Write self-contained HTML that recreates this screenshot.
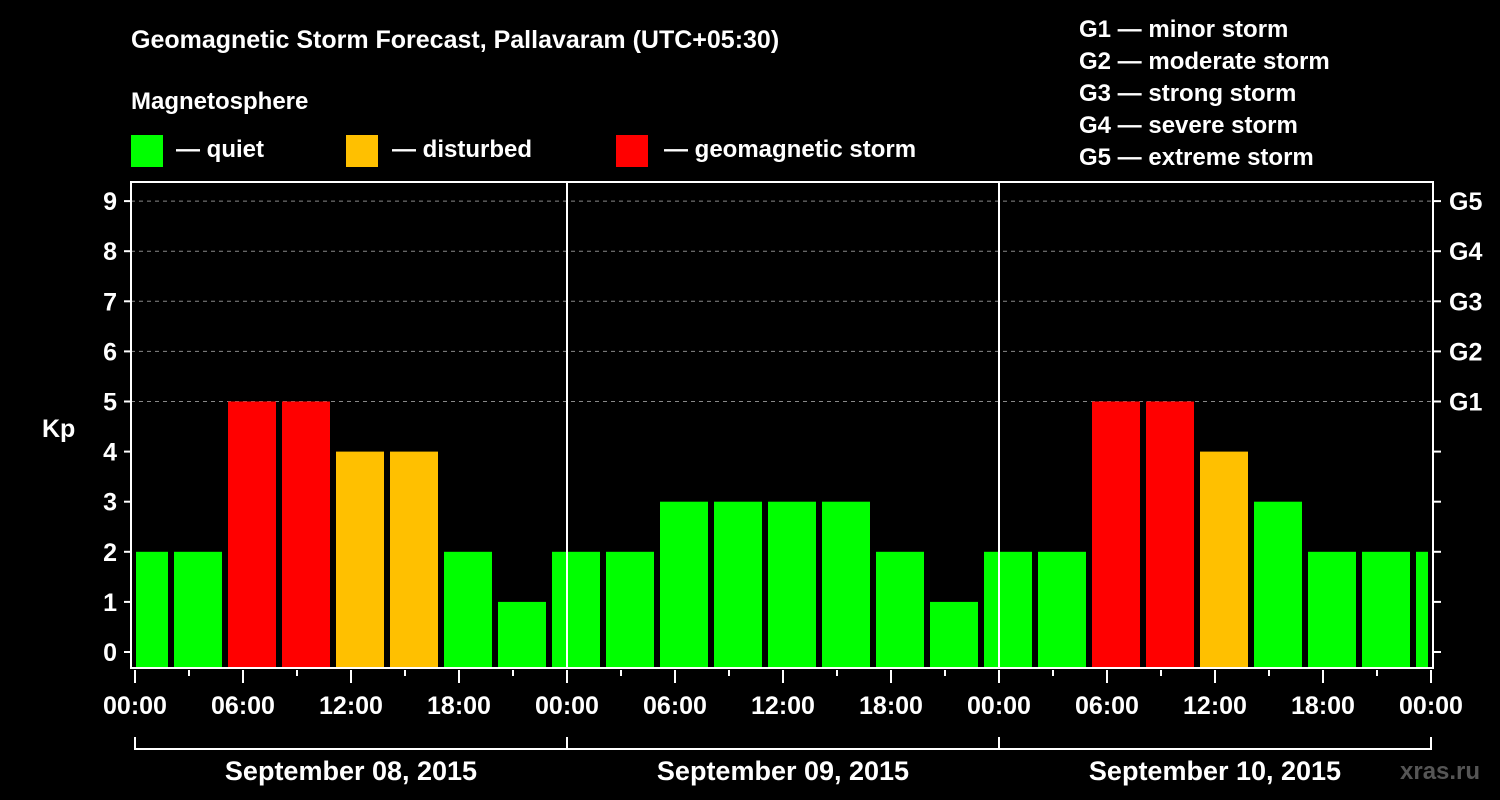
<!DOCTYPE html>
<html><head><meta charset="utf-8"><style>
body{margin:0;background:#000;}
svg{display:block;font-family:"Liberation Sans",Arial,sans-serif;font-weight:bold;}
</style></head><body>
<svg id="chart" width="1500" height="800" viewBox="0 0 1500 800">
<rect width="1500" height="800" fill="#000"/>
<text x="131" y="48" fill="#fff" font-size="25">Geomagnetic Storm Forecast, Pallavaram (UTC+05:30)</text>
<text x="131" y="109" fill="#fff" font-size="24">Magnetosphere</text>
<g><rect x="131" y="135" width="32" height="32" fill="#00ff00"/><text x="176" y="157" fill="#fff" font-size="24">— quiet</text></g>
<g><rect x="346" y="135" width="32" height="32" fill="#ffc000"/><text x="392" y="157" fill="#fff" font-size="24">— disturbed</text></g>
<g><rect x="616" y="135" width="32" height="32" fill="#ff0000"/><text x="664" y="157" fill="#fff" font-size="24">— geomagnetic storm</text></g>
<g fill="#fff" font-size="24">
<text x="1079" y="37">G1 — minor storm</text>
<text x="1079" y="69">G2 — moderate storm</text>
<text x="1079" y="101">G3 — strong storm</text>
<text x="1079" y="133">G4 — severe storm</text>
<text x="1079" y="165">G5 — extreme storm</text>
</g>
<g id="grid"></g>
<g id="bars"></g>
<g id="axes"></g>
<text x="42" y="437" fill="#fff" font-size="25">Kp</text>
<text x="1400" y="779" fill="#555" font-size="24">xras.ru</text>
</svg>
<script>
const kpValues=[2,2,5,5,4,4,2,1,2,2,3,3,3,3,2,1,2,2,5,5,4,3,2,2,2];
const kpTicks=[0,1,2,3,4,5,6,7,8,9];
const gLabels=["G1","G2","G3","G4","G5"];
const hourLabels=["00:00","06:00","12:00","18:00","00:00","06:00","12:00","18:00","00:00","06:00","12:00","18:00","00:00"];
const dayLabels=["September 08, 2015","September 09, 2015","September 10, 2015"];
const firstBarHour=-1; // bar start offset (hours) relative to first 00:00
const NS="http://www.w3.org/2000/svg";
const L=131,R=1433,T=182,B=668,X0=135,PXH=18;
const xs=h=>X0+h*PXH;
const ys=v=>652-v*50.1;
function el(t,a,p){const e=document.createElementNS(NS,t);for(const k in a)e.setAttribute(k,a[k]);p.appendChild(e);return e;}
const grid=document.getElementById('grid'),bars=document.getElementById('bars'),axes=document.getElementById('axes');
kpTicks.forEach(v=>{
  if(v>=5){const g=el('line',{x1:L,x2:R,y1:ys(v),y2:ys(v),stroke:'#888','stroke-dasharray':'4,4','stroke-width':1},grid);
  
  }
  const t=el('line',{x1:L-7,x2:L,y1:ys(v),y2:ys(v),stroke:'#fff','stroke-width':2},axes);
  
  
  const t2=el('line',{x1:R,x2:R+8,y1:ys(v),y2:ys(v),stroke:'#fff','stroke-width':2},axes);
  
  
  const lb=el('text',{x:L-14,y:ys(v)+9,fill:'#fff','font-size':25,'text-anchor':'end'},axes);lb.textContent=v;
  
  
});
gLabels.forEach((g,i)=>{const lb=el('text',{x:R+16,y:ys(5+i)+9,fill:'#fff','font-size':25},axes);lb.textContent=g;
  
  });
kpValues.forEach((v,i)=>{
  let x1=xs(firstBarHour+i*3)+3,x2=xs(firstBarHour+i*3+3)-3;
  x1=Math.max(x1,L+5);x2=Math.min(x2,R-5);
  const c=v>=5?'#ff0000':(v>=4?'#ffc000':'#00ff00');
  const r=el('rect',{x:x1,y:ys(v),width:x2-x1,height:B-ys(v),fill:c},bars);
  
  
});
[1,2].forEach(d=>{const l=el('line',{x1:xs(d*24),x2:xs(d*24),y1:T,y2:B,stroke:'#fff','stroke-width':2},axes);
  
  });
const fr=el('rect',{x:L,y:T,width:R-L,height:B-T,fill:'none',stroke:'#fff','stroke-width':2},axes);


for(let h=0;h<=72;h+=3){
  const major=h%6===0;
  const t=el('line',{x1:xs(h),x2:xs(h),y1:B+2,y2:B+(major?15:8),stroke:'#fff','stroke-width':2},axes);
  
  
}
hourLabels.forEach((s,i)=>{const lb=el('text',{x:xs(i*6),y:714,fill:'#fff','font-size':25,'text-anchor':'middle'},axes);lb.textContent=s;
  
  });
const br=el('path',{d:`M${xs(0)},737V749H${xs(72)}V737M${xs(24)},737V749M${xs(48)},737V749`,fill:'none',stroke:'#fff','stroke-width':2},axes);


dayLabels.forEach((s,i)=>{const lb=el('text',{x:xs(i*24+12),y:780,fill:'#fff','font-size':27,'text-anchor':'middle'},axes);lb.textContent=s;
  
  });
</script>
</body></html>
